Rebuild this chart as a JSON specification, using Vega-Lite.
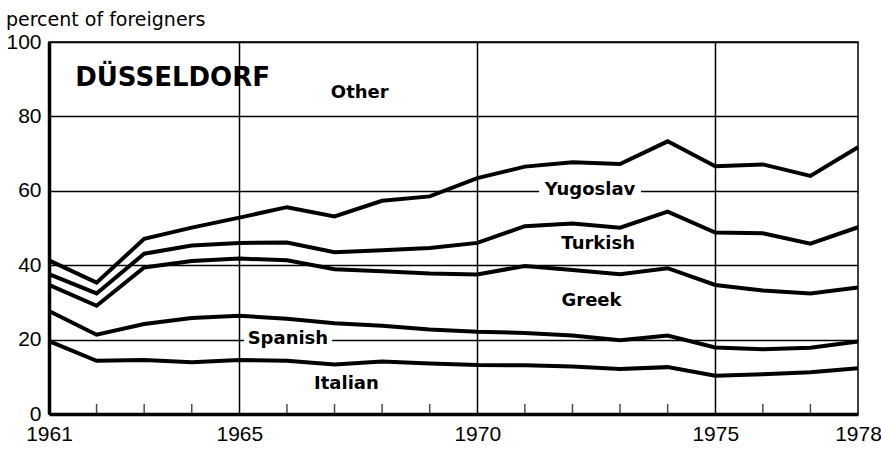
{
  "$schema": "https://vega.github.io/schema/vega-lite/v6.json",
  "width": 809,
  "height": 372,
  "autosize": "none",
  "padding": {"left": 49, "top": 42, "right": 23, "bottom": 37},
  "background": "white",
  "title": {"text": "percent of foreigners", "anchor": "start", "frame": "bounds", "font": "DejaVu Sans", "fontSize": 19, "fontWeight": "normal", "color": "black", "baseline": "alphabetic", "offset": 6, "dy": 20},
  "config": {"view": {"stroke": "black", "strokeWidth": 1.5}, "font": "DejaVu Sans"},
  "datasets": {
    "bounds": [
      {"year": 1961, "series": "Italian", "value": 19.6}, {"year": 1962, "series": "Italian", "value": 14.3}, {"year": 1963, "series": "Italian", "value": 14.5}, {"year": 1964, "series": "Italian", "value": 13.9}, {"year": 1965, "series": "Italian", "value": 14.5}, {"year": 1966, "series": "Italian", "value": 14.3}, {"year": 1967, "series": "Italian", "value": 13.3}, {"year": 1968, "series": "Italian", "value": 14.1}, {"year": 1969, "series": "Italian", "value": 13.6}, {"year": 1970, "series": "Italian", "value": 13.2}, {"year": 1971, "series": "Italian", "value": 13.1}, {"year": 1972, "series": "Italian", "value": 12.8}, {"year": 1973, "series": "Italian", "value": 12.1}, {"year": 1974, "series": "Italian", "value": 12.6}, {"year": 1975, "series": "Italian", "value": 10.3}, {"year": 1976, "series": "Italian", "value": 10.7}, {"year": 1977, "series": "Italian", "value": 11.2}, {"year": 1978, "series": "Italian", "value": 12.3},
      {"year": 1961, "series": "Spanish", "value": 27.7}, {"year": 1962, "series": "Spanish", "value": 21.3}, {"year": 1963, "series": "Spanish", "value": 24.2}, {"year": 1964, "series": "Spanish", "value": 25.8}, {"year": 1965, "series": "Spanish", "value": 26.4}, {"year": 1966, "series": "Spanish", "value": 25.6}, {"year": 1967, "series": "Spanish", "value": 24.4}, {"year": 1968, "series": "Spanish", "value": 23.7}, {"year": 1969, "series": "Spanish", "value": 22.7}, {"year": 1970, "series": "Spanish", "value": 22.1}, {"year": 1971, "series": "Spanish", "value": 21.8}, {"year": 1972, "series": "Spanish", "value": 21.1}, {"year": 1973, "series": "Spanish", "value": 19.8}, {"year": 1974, "series": "Spanish", "value": 21.1}, {"year": 1975, "series": "Spanish", "value": 17.9}, {"year": 1976, "series": "Spanish", "value": 17.4}, {"year": 1977, "series": "Spanish", "value": 17.8}, {"year": 1978, "series": "Spanish", "value": 19.5},
      {"year": 1961, "series": "Greek", "value": 34.7}, {"year": 1962, "series": "Greek", "value": 29.1}, {"year": 1963, "series": "Greek", "value": 39.4}, {"year": 1964, "series": "Greek", "value": 41.1}, {"year": 1965, "series": "Greek", "value": 41.8}, {"year": 1966, "series": "Greek", "value": 41.3}, {"year": 1967, "series": "Greek", "value": 38.9}, {"year": 1968, "series": "Greek", "value": 38.4}, {"year": 1969, "series": "Greek", "value": 37.8}, {"year": 1970, "series": "Greek", "value": 37.5}, {"year": 1971, "series": "Greek", "value": 39.8}, {"year": 1972, "series": "Greek", "value": 38.7}, {"year": 1973, "series": "Greek", "value": 37.6}, {"year": 1974, "series": "Greek", "value": 39.2}, {"year": 1975, "series": "Greek", "value": 34.7}, {"year": 1976, "series": "Greek", "value": 33.2}, {"year": 1977, "series": "Greek", "value": 32.4}, {"year": 1978, "series": "Greek", "value": 34.0},
      {"year": 1961, "series": "Turkish", "value": 37.6}, {"year": 1962, "series": "Turkish", "value": 32.4}, {"year": 1963, "series": "Turkish", "value": 43.1}, {"year": 1964, "series": "Turkish", "value": 45.3}, {"year": 1965, "series": "Turkish", "value": 46.0}, {"year": 1966, "series": "Turkish", "value": 46.1}, {"year": 1967, "series": "Turkish", "value": 43.5}, {"year": 1968, "series": "Turkish", "value": 44.0}, {"year": 1969, "series": "Turkish", "value": 44.6}, {"year": 1970, "series": "Turkish", "value": 46.0}, {"year": 1971, "series": "Turkish", "value": 50.5}, {"year": 1972, "series": "Turkish", "value": 51.2}, {"year": 1973, "series": "Turkish", "value": 50.1}, {"year": 1974, "series": "Turkish", "value": 54.4}, {"year": 1975, "series": "Turkish", "value": 48.8}, {"year": 1976, "series": "Turkish", "value": 48.6}, {"year": 1977, "series": "Turkish", "value": 45.8}, {"year": 1978, "series": "Turkish", "value": 50.2},
      {"year": 1961, "series": "Yugoslav", "value": 41.3}, {"year": 1962, "series": "Yugoslav", "value": 35.3}, {"year": 1963, "series": "Yugoslav", "value": 47.1}, {"year": 1964, "series": "Yugoslav", "value": 50.1}, {"year": 1965, "series": "Yugoslav", "value": 52.8}, {"year": 1966, "series": "Yugoslav", "value": 55.6}, {"year": 1967, "series": "Yugoslav", "value": 53.1}, {"year": 1968, "series": "Yugoslav", "value": 57.3}, {"year": 1969, "series": "Yugoslav", "value": 58.5}, {"year": 1970, "series": "Yugoslav", "value": 63.4}, {"year": 1971, "series": "Yugoslav", "value": 66.5}, {"year": 1972, "series": "Yugoslav", "value": 67.7}, {"year": 1973, "series": "Yugoslav", "value": 67.2}, {"year": 1974, "series": "Yugoslav", "value": 73.3}, {"year": 1975, "series": "Yugoslav", "value": 66.6}, {"year": 1976, "series": "Yugoslav", "value": 67.1}, {"year": 1977, "series": "Yugoslav", "value": 64.0}, {"year": 1978, "series": "Yugoslav", "value": 71.7}
    ],
    "tickyears": [
      {"year": 1962, "value": 0}, {"year": 1963, "value": 0}, {"year": 1964, "value": 0}, {"year": 1966, "value": 0}, {"year": 1967, "value": 0}, {"year": 1968, "value": 0}, {"year": 1969, "value": 0}, {"year": 1971, "value": 0}, {"year": 1972, "value": 0}, {"year": 1973, "value": 0}, {"year": 1974, "value": 0}, {"year": 1976, "value": 0}, {"year": 1977, "value": 0}
    ],
    "boxes": [
      {"year": 1971.3, "year2": 1973.44, "value": 57, "value2": 63.5},
      {"year": 1965.1, "year2": 1966.95, "value": 18, "value2": 22.5}
    ],
    "labels": [
      {"year": 1967.53, "value": 86.3, "text": "Other"},
      {"year": 1972.37, "value": 60.1, "text": "Yugoslav"},
      {"year": 1972.54, "value": 45.7, "text": "Turkish"},
      {"year": 1972.4, "value": 30.4, "text": "Greek"},
      {"year": 1966.02, "value": 20.2, "text": "Spanish"},
      {"year": 1967.25, "value": 8.1, "text": "Italian"}
    ],
    "city": [
      {"year": 1961.55, "value": 90.2, "text": "DÜSSELDORF"}
    ]
  },
  "encoding": {
    "x": {"field": "year", "type": "quantitative", "scale": {"domain": [1961, 1978], "nice": false, "zero": false},
      "axis": {"title": null, "values": [1961, 1965, 1970, 1975, 1978],
        "format": "d",
        "grid": true, "gridColor": "black", "gridWidth": 1.5,
        "gridOpacity": {"condition": {"test": "indexof([1965,1970,1975], datum.value) >= 0", "value": 1}, "value": 0},
        "ticks": false,
        "domainColor": "black", "domainWidth": 3.5,
        "labelFont": "Liberation Sans", "labelFontSize": 21, "labelColor": "black", "labelPadding": 9, "labelFlush": false}},
    "y": {"field": "value", "type": "quantitative", "scale": {"domain": [0, 100], "nice": false},
      "axis": {"title": null, "values": [0, 20, 40, 60, 80, 100],
        "grid": true, "gridColor": "black", "gridWidth": 1.5, "ticks": false,
        "domainColor": "black", "domainWidth": 3.5,
        "labelFont": "Liberation Sans", "labelFontSize": 21, "labelColor": "black", "labelPadding": 8, "labelFlush": false}}
  },
  "layer": [
    {
      "data": {"name": "bounds"},
      "mark": {"type": "line", "color": "black", "strokeWidth": 4},
      "encoding": {
        "detail": {"field": "series"}
      }
    },
    {
      "data": {"name": "boxes"},
      "mark": {"type": "rect", "color": "white"},
      "encoding": {
        "x2": {"field": "year2"},
        "y2": {"field": "value2"}
      }
    },
    {
      "data": {"name": "labels"},
      "mark": {"type": "text", "font": "DejaVu Sans", "fontSize": 18, "fontWeight": "bold", "color": "black", "align": "center", "baseline": "middle"},
      "encoding": {
        "text": {"field": "text"}
      }
    },
    {
      "data": {"name": "city"},
      "mark": {"type": "text", "font": "DejaVu Sans", "fontSize": 26, "fontWeight": "bold", "color": "black", "align": "left", "baseline": "middle"},
      "encoding": {
        "text": {"field": "text"}
      }
    },
    {
      "data": {"name": "tickyears"},
      "mark": {"type": "tick", "orient": "vertical", "color": "black", "size": 10, "thickness": 1.5, "yOffset": -5}
    }
  ]
}
